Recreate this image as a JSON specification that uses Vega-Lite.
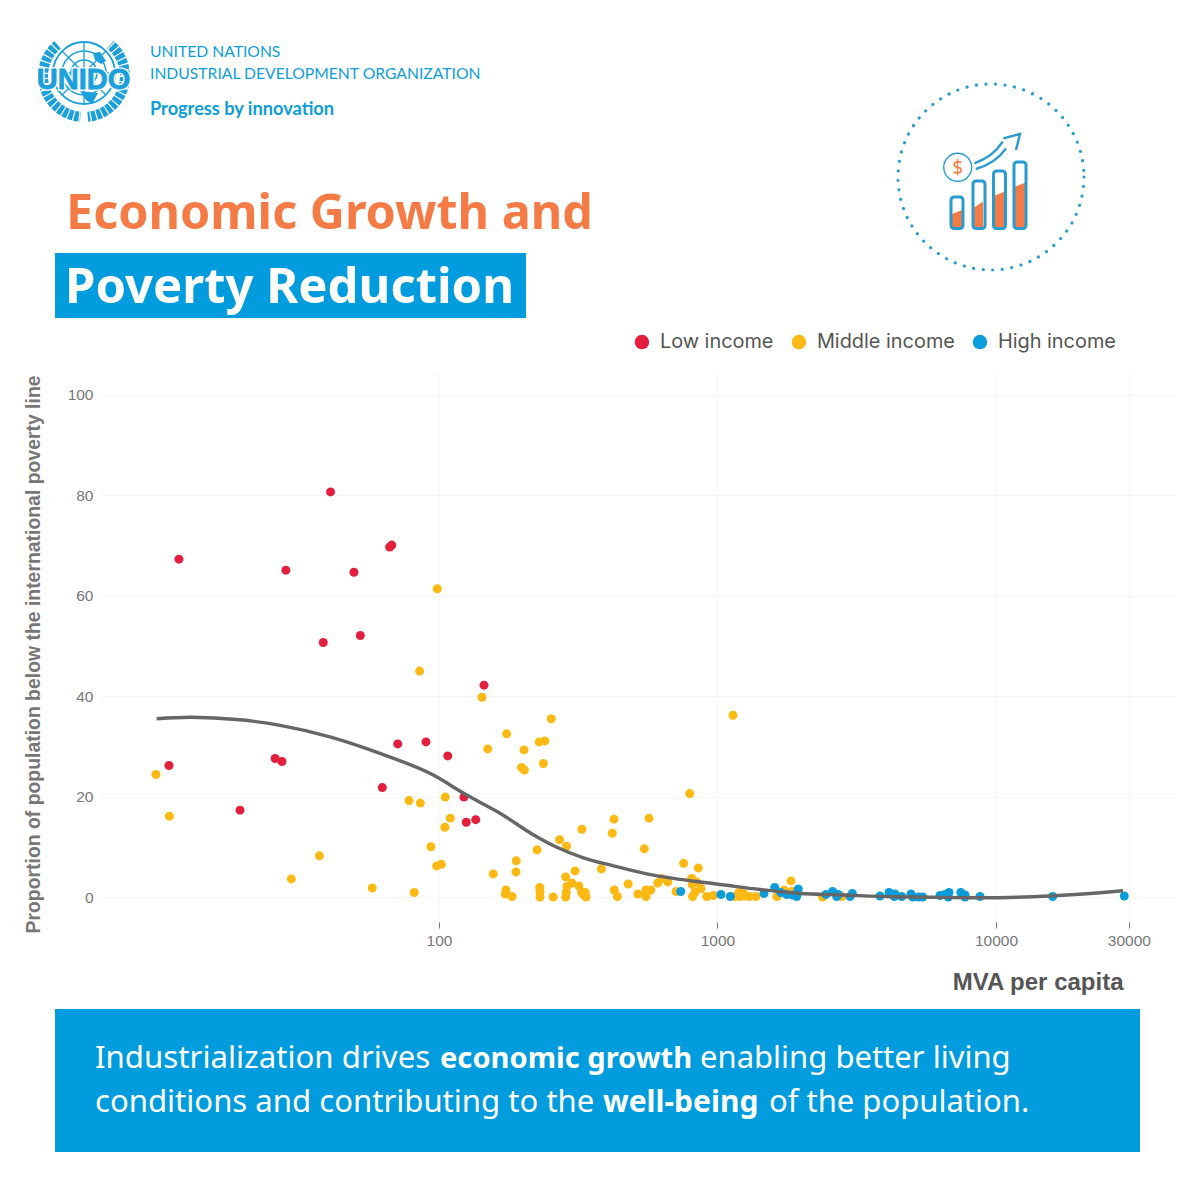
{
  "$schema": "https://vega.github.io/schema/vega-lite/v6.json",
  "description": "UNIDO: MVA per capita against share of population below the poverty line",
  "width": 1076,
  "height": 550,
  "autosize": {"type": "none"},
  "padding": {"left": 100, "top": 372, "right": 24, "bottom": 278},
  "background": "white",
  "config": {"view": {"stroke": null}},
  "datasets": {
    "one": [{"part": "decoration"}],
    "points": [
      {"mva": 40.8, "poverty": 80.7, "income": "Low income"},
      {"mva": 11.65, "poverty": 67.3, "income": "Low income"},
      {"mva": 28.2, "poverty": 65.1, "income": "Low income"},
      {"mva": 49.5, "poverty": 64.7, "income": "Low income"},
      {"mva": 67.7, "poverty": 70.1, "income": "Low income"},
      {"mva": 66.5, "poverty": 69.7, "income": "Low income"},
      {"mva": 52.2, "poverty": 52.1, "income": "Low income"},
      {"mva": 38.4, "poverty": 50.7, "income": "Low income"},
      {"mva": 71.1, "poverty": 30.5, "income": "Low income"},
      {"mva": 89.8, "poverty": 30.9, "income": "Low income"},
      {"mva": 25.8, "poverty": 27.6, "income": "Low income"},
      {"mva": 27.3, "poverty": 27.0, "income": "Low income"},
      {"mva": 10.73, "poverty": 26.2, "income": "Low income"},
      {"mva": 62.6, "poverty": 21.8, "income": "Low income"},
      {"mva": 19.3, "poverty": 17.3, "income": "Low income"},
      {"mva": 107.5, "poverty": 28.1, "income": "Low income"},
      {"mva": 145.1, "poverty": 42.2, "income": "Low income"},
      {"mva": 122.9, "poverty": 19.9, "income": "Low income"},
      {"mva": 125.3, "poverty": 14.9, "income": "Low income"},
      {"mva": 135.5, "poverty": 15.4, "income": "Low income"},
      {"mva": 85.2, "poverty": 45.0, "income": "Middle income"},
      {"mva": 9.63, "poverty": 24.4, "income": "Middle income"},
      {"mva": 10.76, "poverty": 16.1, "income": "Middle income"},
      {"mva": 78.0, "poverty": 19.2, "income": "Middle income"},
      {"mva": 85.7, "poverty": 18.7, "income": "Middle income"},
      {"mva": 93.6, "poverty": 10.0, "income": "Middle income"},
      {"mva": 37.2, "poverty": 8.2, "income": "Middle income"},
      {"mva": 29.5, "poverty": 3.6, "income": "Middle income"},
      {"mva": 57.6, "poverty": 1.8, "income": "Middle income"},
      {"mva": 81.5, "poverty": 0.9, "income": "Middle income"},
      {"mva": 98.6, "poverty": 61.4, "income": "Middle income"},
      {"mva": 142.7, "poverty": 39.8, "income": "Middle income"},
      {"mva": 253, "poverty": 35.5, "income": "Middle income"},
      {"mva": 175, "poverty": 32.5, "income": "Middle income"},
      {"mva": 240, "poverty": 31.1, "income": "Middle income"},
      {"mva": 229, "poverty": 30.9, "income": "Middle income"},
      {"mva": 149.6, "poverty": 29.5, "income": "Middle income"},
      {"mva": 202, "poverty": 29.3, "income": "Middle income"},
      {"mva": 237, "poverty": 26.6, "income": "Middle income"},
      {"mva": 198, "poverty": 25.8, "income": "Middle income"},
      {"mva": 202.5, "poverty": 25.3, "income": "Middle income"},
      {"mva": 105.3, "poverty": 19.9, "income": "Middle income"},
      {"mva": 109.8, "poverty": 15.7, "income": "Middle income"},
      {"mva": 105, "poverty": 13.9, "income": "Middle income"},
      {"mva": 98.1, "poverty": 6.2, "income": "Middle income"},
      {"mva": 101.9, "poverty": 6.5, "income": "Middle income"},
      {"mva": 156.7, "poverty": 4.6, "income": "Middle income"},
      {"mva": 189.5, "poverty": 7.2, "income": "Middle income"},
      {"mva": 189, "poverty": 5.0, "income": "Middle income"},
      {"mva": 225, "poverty": 9.4, "income": "Middle income"},
      {"mva": 271, "poverty": 11.4, "income": "Middle income"},
      {"mva": 287, "poverty": 10.1, "income": "Middle income"},
      {"mva": 326, "poverty": 13.5, "income": "Middle income"},
      {"mva": 425, "poverty": 15.5, "income": "Middle income"},
      {"mva": 419, "poverty": 12.7, "income": "Middle income"},
      {"mva": 568, "poverty": 15.7, "income": "Middle income"},
      {"mva": 546, "poverty": 9.6, "income": "Middle income"},
      {"mva": 795, "poverty": 20.6, "income": "Middle income"},
      {"mva": 756, "poverty": 6.7, "income": "Middle income"},
      {"mva": 853, "poverty": 5.8, "income": "Middle income"},
      {"mva": 383, "poverty": 5.6, "income": "Middle income"},
      {"mva": 308, "poverty": 5.2, "income": "Middle income"},
      {"mva": 285, "poverty": 4.0, "income": "Middle income"},
      {"mva": 300, "poverty": 2.8, "income": "Middle income"},
      {"mva": 288, "poverty": 2.1, "income": "Middle income"},
      {"mva": 318, "poverty": 2.2, "income": "Middle income"},
      {"mva": 286.5, "poverty": 0.9, "income": "Middle income"},
      {"mva": 285, "poverty": 0, "income": "Middle income"},
      {"mva": 325.5, "poverty": 0.9, "income": "Middle income"},
      {"mva": 335, "poverty": 0.9, "income": "Middle income"},
      {"mva": 330, "poverty": 0.5, "income": "Middle income"},
      {"mva": 337, "poverty": 0, "income": "Middle income"},
      {"mva": 230, "poverty": 1.9, "income": "Middle income"},
      {"mva": 230.5, "poverty": 1.0, "income": "Middle income"},
      {"mva": 230.5, "poverty": 0, "income": "Middle income"},
      {"mva": 257, "poverty": 0, "income": "Middle income"},
      {"mva": 174, "poverty": 1.4, "income": "Middle income"},
      {"mva": 173, "poverty": 0.6, "income": "Middle income"},
      {"mva": 183, "poverty": 0.1, "income": "Middle income"},
      {"mva": 426, "poverty": 1.4, "income": "Middle income"},
      {"mva": 437, "poverty": 0.1, "income": "Middle income"},
      {"mva": 478, "poverty": 2.6, "income": "Middle income"},
      {"mva": 518, "poverty": 0.6, "income": "Middle income"},
      {"mva": 554, "poverty": 1.4, "income": "Middle income"},
      {"mva": 576, "poverty": 1.4, "income": "Middle income"},
      {"mva": 554, "poverty": 0.1, "income": "Middle income"},
      {"mva": 610, "poverty": 2.8, "income": "Middle income"},
      {"mva": 630, "poverty": 3.7, "income": "Middle income"},
      {"mva": 663, "poverty": 3.0, "income": "Middle income"},
      {"mva": 710, "poverty": 1.1, "income": "Middle income"},
      {"mva": 814, "poverty": 0.1, "income": "Middle income"},
      {"mva": 830, "poverty": 0.9, "income": "Middle income"},
      {"mva": 808, "poverty": 3.7, "income": "Middle income"},
      {"mva": 842, "poverty": 3.0, "income": "Middle income"},
      {"mva": 812, "poverty": 2.5, "income": "Middle income"},
      {"mva": 873, "poverty": 1.7, "income": "Middle income"},
      {"mva": 915, "poverty": 0.1, "income": "Middle income"},
      {"mva": 966, "poverty": 0.3, "income": "Middle income"},
      {"mva": 1156, "poverty": 0.1, "income": "Middle income"},
      {"mva": 1194, "poverty": 0.9, "income": "Middle income"},
      {"mva": 1238, "poverty": 0.7, "income": "Middle income"},
      {"mva": 1205, "poverty": 0.1, "income": "Middle income"},
      {"mva": 1255, "poverty": 0.2, "income": "Middle income"},
      {"mva": 1301, "poverty": 0.1, "income": "Middle income"},
      {"mva": 1375, "poverty": 0.1, "income": "Middle income"},
      {"mva": 1137, "poverty": 36.2, "income": "Middle income"},
      {"mva": 1836, "poverty": 3.2, "income": "Middle income"},
      {"mva": 1733, "poverty": 1.4, "income": "Middle income"},
      {"mva": 1847, "poverty": 1.1, "income": "Middle income"},
      {"mva": 1635, "poverty": 0.1, "income": "Middle income"},
      {"mva": 2386, "poverty": 0, "income": "Middle income"},
      {"mva": 2799, "poverty": 0.1, "income": "Middle income"},
      {"mva": 738, "poverty": 1.1, "income": "High income"},
      {"mva": 1029, "poverty": 0.5, "income": "High income"},
      {"mva": 1112, "poverty": 0.1, "income": "High income"},
      {"mva": 1469, "poverty": 0.7, "income": "High income"},
      {"mva": 1605, "poverty": 1.9, "income": "High income"},
      {"mva": 1687, "poverty": 0.9, "income": "High income"},
      {"mva": 1772, "poverty": 0.5, "income": "High income"},
      {"mva": 1862, "poverty": 0.4, "income": "High income"},
      {"mva": 1925, "poverty": 0.1, "income": "High income"},
      {"mva": 1950, "poverty": 1.6, "income": "High income"},
      {"mva": 1934, "poverty": 0.7, "income": "High income"},
      {"mva": 2452, "poverty": 0.5, "income": "High income"},
      {"mva": 2591, "poverty": 1.1, "income": "High income"},
      {"mva": 2679, "poverty": 0.1, "income": "High income"},
      {"mva": 2715, "poverty": 0.5, "income": "High income"},
      {"mva": 2991, "poverty": 0.1, "income": "High income"},
      {"mva": 3048, "poverty": 0.7, "income": "High income"},
      {"mva": 3832, "poverty": 0.2, "income": "High income"},
      {"mva": 4129, "poverty": 0.9, "income": "High income"},
      {"mva": 4338, "poverty": 0.6, "income": "High income"},
      {"mva": 4313, "poverty": 0.1, "income": "High income"},
      {"mva": 4584, "poverty": 0.1, "income": "High income"},
      {"mva": 4952, "poverty": 0.6, "income": "High income"},
      {"mva": 5022, "poverty": 0, "income": "High income"},
      {"mva": 5260, "poverty": 0, "income": "High income"},
      {"mva": 5456, "poverty": 0, "income": "High income"},
      {"mva": 6295, "poverty": 0.3, "income": "High income"},
      {"mva": 6561, "poverty": 0.5, "income": "High income"},
      {"mva": 6781, "poverty": 0.9, "income": "High income"},
      {"mva": 6742, "poverty": 0, "income": "High income"},
      {"mva": 7471, "poverty": 0.9, "income": "High income"},
      {"mva": 7740, "poverty": 0.4, "income": "High income"},
      {"mva": 7740, "poverty": 0, "income": "High income"},
      {"mva": 8761, "poverty": 0.1, "income": "High income"},
      {"mva": 15980, "poverty": 0.1, "income": "High income"},
      {"mva": 28880, "poverty": 0.2, "income": "High income"}
    ],
    "curve": [
      {"mva": 9.69, "poverty": 35.5},
      {"mva": 12.76, "poverty": 35.8},
      {"mva": 19.3, "poverty": 35.3},
      {"mva": 26.9, "poverty": 34.2},
      {"mva": 40.6, "poverty": 31.9},
      {"mva": 61.4, "poverty": 28.6},
      {"mva": 95.4, "poverty": 24.3},
      {"mva": 125.8, "poverty": 20.3},
      {"mva": 165.6, "poverty": 16.7},
      {"mva": 218, "poverty": 12.4},
      {"mva": 265, "poverty": 9.9},
      {"mva": 330, "poverty": 7.8},
      {"mva": 423, "poverty": 6.2},
      {"mva": 557, "poverty": 4.6},
      {"mva": 694, "poverty": 3.7},
      {"mva": 865, "poverty": 3.0},
      {"mva": 993, "poverty": 2.6},
      {"mva": 1421, "poverty": 1.5},
      {"mva": 1978, "poverty": 0.7},
      {"mva": 2822, "poverty": 0.4},
      {"mva": 4268, "poverty": 0.06},
      {"mva": 5941, "poverty": -0.06},
      {"mva": 8761, "poverty": -0.14},
      {"mva": 13580, "poverty": 0.06},
      {"mva": 17990, "poverty": 0.4},
      {"mva": 23630, "poverty": 0.86},
      {"mva": 28580, "poverty": 1.25}
    ]
  },
  "layer": [
    {
      "data": {"name": "points"},
      "mark": {"type": "point", "filled": true, "opacity": 1, "size": 81},
      "encoding": {
        "x": {
          "field": "mva",
          "type": "quantitative",
          "scale": {"type": "log", "domain": [6.065, 44300], "nice": false},
          "axis": {
            "values": [100, 1000, 10000, 30000],
            "format": "d",
            "title": "MVA per capita",
            "titleFont": "Liberation Sans",
            "titleFontSize": 24,
            "titleFontWeight": "bold",
            "titleColor": "#555555",
            "titleX": 1023,
            "titleY": 60,
            "titleAlign": "right",
            "titleBaseline": "middle",
            "labelFont": "Liberation Sans",
            "labelFontSize": 15.5,
            "labelColor": "#777777",
            "labelPadding": 5,
            "labelFlush": false,
            "labelOverlap": false,
            "domain": false,
            "ticks": true,
            "tickSize": 6,
            "tickColor": "#777777",
            "grid": true,
            "gridColor": "#f6f6f6"
          }
        },
        "y": {
          "field": "poverty",
          "type": "quantitative",
          "scale": {"domain": [-4.98, 104.58], "nice": false, "zero": false},
          "axis": {
            "values": [0, 20, 40, 60, 80, 100],
            "title": "Proportion of population below the international poverty line",
            "titleFont": "Liberation Sans",
            "titleFontSize": 19.4,
            "titleFontWeight": "bold",
            "titleColor": "#777777",
            "titleX": -67,
            "titleY": 282,
            "titleAngle": -90,
            "titleAlign": "center",
            "titleBaseline": "middle",
            "labelFont": "Liberation Sans",
            "labelFontSize": 15.5,
            "labelColor": "#777777",
            "labelPadding": 7,
            "domain": false,
            "ticks": false,
            "grid": true,
            "gridColor": "#f6f6f6"
          }
        },
        "color": {
          "field": "income",
          "type": "nominal",
          "sort": null,
          "scale": {
            "domain": ["Low income", "Middle income", "High income"],
            "range": ["#E31F3D", "#FDB913", "#0C9CDA"]
          },
          "legend": {
            "title": null,
            "orient": "none",
            "legendX": 532,
            "legendY": -40,
            "direction": "horizontal",
            "columns": 3,
            "columnPadding": 15,
            "symbolSize": 210,
            "labelFont": "Inter",
            "labelFontSize": 19.9,
            "labelColor": "#555555",
            "labelOffset": 8
          }
        }
      }
    },
    {
      "data": {"name": "curve"},
      "mark": {"type": "line", "color": "#666666", "strokeWidth": 3.4, "interpolate": "monotone"},
      "encoding": {
        "x": {"field": "mva", "type": "quantitative", "scale": {"type": "log", "domain": [6.065, 44300], "nice": false}},
        "y": {"field": "poverty", "type": "quantitative", "scale": {"domain": [-4.98, 104.58], "nice": false, "zero": false}}
      }
    },
    {"data": {"name": "one"}, "encoding": {}, "mark": {"type": "rect", "x": -45, "x2": 426, "y": -119, "y2": -54, "color": "#009CDE"}},
    {"data": {"name": "one"}, "encoding": {}, "mark": {"type": "rect", "x": -45, "x2": 1040, "y": 637, "y2": 780, "color": "#009CDE"}},
    {"data": {"name": "one"}, "encoding": {}, "mark": {"type": "text", "text": "Economic Growth and", "x": -34, "y": -143, "align": "left", "baseline": "alphabetic", "font": "Noto Sans", "fontWeight": "bold", "fontSize": 48.5, "color": "#F47B45"}},
    {"data": {"name": "one"}, "encoding": {}, "mark": {"type": "text", "text": "Poverty Reduction", "x": -35, "y": -69, "align": "left", "baseline": "alphabetic", "font": "Noto Sans", "fontWeight": "bold", "fontSize": 49, "color": "white"}},
    {"data": {"name": "one"}, "encoding": {}, "mark": {"type": "text", "text": "Industrialization drives", "x": -5, "y": 696, "align": "left", "baseline": "alphabetic", "font": "Noto Sans", "fontSize": 31.2, "color": "white"}},
    {"data": {"name": "one"}, "encoding": {}, "mark": {"type": "text", "text": "economic growth", "x": 340, "y": 696, "align": "left", "baseline": "alphabetic", "font": "Noto Sans", "fontWeight": "bold", "fontSize": 29.1, "color": "white"}},
    {"data": {"name": "one"}, "encoding": {}, "mark": {"type": "text", "text": "enabling better living", "x": 600, "y": 696, "align": "left", "baseline": "alphabetic", "font": "Noto Sans", "fontSize": 31, "color": "white"}},
    {"data": {"name": "one"}, "encoding": {}, "mark": {"type": "text", "text": "conditions and contributing to the", "x": -5, "y": 740, "align": "left", "baseline": "alphabetic", "font": "Noto Sans", "fontSize": 31.1, "color": "white"}},
    {"data": {"name": "one"}, "encoding": {}, "mark": {"type": "text", "text": "well-being", "x": 503, "y": 740, "align": "left", "baseline": "alphabetic", "font": "Noto Sans", "fontWeight": "bold", "fontSize": 30, "color": "white"}},
    {"data": {"name": "one"}, "encoding": {}, "mark": {"type": "text", "text": "of the population.", "x": 669, "y": 740, "align": "left", "baseline": "alphabetic", "font": "Noto Sans", "fontSize": 31, "color": "white"}},
    {"data": {"name": "one"}, "encoding": {}, "mark": {"type": "text", "text": "UNITED NATIONS", "x": 50, "y": -315, "align": "left", "baseline": "alphabetic", "font": "Lato", "fontSize": 15.7, "color": "#0D9DD9"}},
    {"data": {"name": "one"}, "encoding": {}, "mark": {"type": "text", "text": "INDUSTRIAL DEVELOPMENT ORGANIZATION", "x": 50, "y": -293, "align": "left", "baseline": "alphabetic", "font": "Lato", "fontSize": 15.7, "color": "#0D9DD9"}},
    {"data": {"name": "one"}, "encoding": {}, "mark": {"type": "rule", "x": 50, "x2": 379, "y": -281, "color": "#49B6E4", "strokeWidth": 1}},
    {"data": {"name": "one"}, "encoding": {}, "mark": {"type": "text", "text": "Progress by innovation", "x": 50, "y": -257, "align": "left", "baseline": "alphabetic", "font": "Lato", "fontWeight": "bold", "fontSize": 18.2, "color": "#0D9DD9"}},
    {"data": {"name": "one"}, "encoding": {}, "mark": {"type": "arc", "x": -16, "y": -296, "radius": 46, "radius2": 36, "theta": 0.7, "theta2": 3.05, "color": "#1BA0DC"}},
    {"data": {"name": "one"}, "encoding": {}, "mark": {"type": "arc", "x": -16, "y": -296, "radius": 46, "radius2": 36, "theta": 3.23, "theta2": 5.58, "color": "#1BA0DC"}},
    {"data": {"name": "one"}, "encoding": {}, "mark": {"type": "point", "x": -16, "y": -296, "shape": "circle", "size": 6724, "filled": false, "opacity": 1, "stroke": "white", "strokeWidth": 12, "strokeDash": [1.2, 4.5]}},
    {"data": {"name": "one"}, "encoding": {}, "mark": {"type": "point", "x": -16, "y": -299, "shape": "circle", "size": 3844, "filled": false, "opacity": 1, "stroke": "#1BA0DC", "strokeWidth": 1.8}},
    {"data": {"name": "one"}, "encoding": {}, "mark": {"type": "point", "x": -16, "y": -299, "shape": "circle", "size": 1936, "filled": false, "opacity": 1, "stroke": "#1BA0DC", "strokeWidth": 1.6}},
    {"data": {"name": "one"}, "encoding": {}, "mark": {"type": "point", "x": -16, "y": -299, "shape": "circle", "size": 676, "filled": false, "opacity": 1, "stroke": "#1BA0DC", "strokeWidth": 1.6}},
    {"data": {"name": "one"}, "encoding": {}, "mark": {"type": "point", "x": -16, "y": -299, "shape": "circle", "size": 100, "filled": false, "opacity": 1, "stroke": "#1BA0DC", "strokeWidth": 1.6}},
    {"data": {"name": "one"}, "encoding": {}, "mark": {"type": "point", "x": -16, "y": -299, "shape": "M -0.31 0 L 0.31 0 M 0 -0.31 L 0 0.31 M -0.22 -0.22 L 0.22 0.22 M -0.22 0.22 L 0.22 -0.22", "size": 40000, "filled": false, "opacity": 1, "stroke": "#1BA0DC", "strokeWidth": 1.3}},
    {"data": {"name": "one"}, "encoding": {}, "mark": {"type": "point", "x": -16, "y": -299, "shape": "M 0.09 -0.2 L 0.16 -0.21 L 0.22 -0.12 L 0.17 -0.09 L 0.11 -0.13 Z M -0.04 0.18 L 0.14 0.2 L 0.08 0.31 L 0.02 0.27 Z", "size": 40000, "filled": true, "opacity": 1, "color": "#1BA0DC"}},
    {"data": {"name": "one"}, "encoding": {}, "mark": {"type": "text", "text": "UNIDO", "x": -16.5, "y": -283, "align": "center", "baseline": "alphabetic", "font": "Liberation Sans", "fontWeight": "bold", "fontSize": 29, "fill": "white", "stroke": "white", "strokeWidth": 3.5}},
    {"data": {"name": "one"}, "encoding": {}, "mark": {"type": "text", "text": "UNIDO", "x": -16.5, "y": -283, "align": "center", "baseline": "alphabetic", "font": "Liberation Sans", "fontWeight": "bold", "fontSize": 29, "fill": "#1BA0DC", "stroke": "#1BA0DC", "strokeWidth": 0.8}},
    {"data": {"name": "one"}, "encoding": {}, "mark": {"type": "point", "x": 891, "y": -195, "shape": "circle", "size": 34596, "filled": false, "opacity": 1, "stroke": "#2A9BD0", "strokeWidth": 3.2, "strokeCap": "round", "strokeDash": [0.01, 9.6]}},
    {"data": {"name": "one"}, "encoding": {}, "mark": {"type": "point", "x": 890, "y": -177, "shape": "M -0.38 0.19 L -0.28 0.15 L -0.28 0.32 L -0.38 0.32 Z M -0.16 0.123 L -0.07 0.067 L -0.07 0.32 L -0.16 0.32 Z M 0.04 0.01 L 0.14 -0.033 L 0.14 0.32 L 0.04 0.32 Z M 0.25 -0.083 L 0.35 -0.123 L 0.35 0.32 L 0.25 0.32 Z", "size": 40000, "filled": true, "opacity": 1, "color": "#F47B45"}},
    {"data": {"name": "one"}, "encoding": {}, "mark": {"type": "rect", "x": 851, "x2": 863, "y": -175, "y2": -143.5, "fill": null, "stroke": "#2A9BD0", "strokeWidth": 3, "cornerRadius": 3}},
    {"data": {"name": "one"}, "encoding": {}, "mark": {"type": "rect", "x": 873, "x2": 885, "y": -191, "y2": -143.5, "fill": null, "stroke": "#2A9BD0", "strokeWidth": 3, "cornerRadius": 3}},
    {"data": {"name": "one"}, "encoding": {}, "mark": {"type": "rect", "x": 893.5, "x2": 905.5, "y": -201, "y2": -143.5, "fill": null, "stroke": "#2A9BD0", "strokeWidth": 3, "cornerRadius": 3}},
    {"data": {"name": "one"}, "encoding": {}, "mark": {"type": "rect", "x": 914, "x2": 926, "y": -210, "y2": -143.5, "fill": null, "stroke": "#2A9BD0", "strokeWidth": 3, "cornerRadius": 3}},
    {"data": {"name": "one"}, "encoding": {}, "mark": {"type": "point", "x": 857.7, "y": -204.7, "shape": "circle", "size": 784, "filled": false, "opacity": 1, "stroke": "#2A9BD0", "strokeWidth": 1.4}},
    {"data": {"name": "one"}, "encoding": {}, "mark": {"type": "text", "text": "$", "x": 857.7, "y": -198, "align": "center", "baseline": "alphabetic", "font": "Noto Sans", "fontSize": 19, "color": "#F47B45"}},
    {"data": {"name": "one"}, "encoding": {}, "mark": {"type": "point", "x": 890, "y": -177, "shape": "M -0.157 -0.317 Q 0.03 -0.38 0.127 -0.533 M -0.143 -0.26 Q 0.06 -0.32 0.16 -0.467 M 0.133 -0.567 L 0.3 -0.61 L 0.26 -0.45", "size": 40000, "filled": false, "opacity": 1, "stroke": "#2A9BD0", "strokeWidth": 2.4}}
  ]
}
